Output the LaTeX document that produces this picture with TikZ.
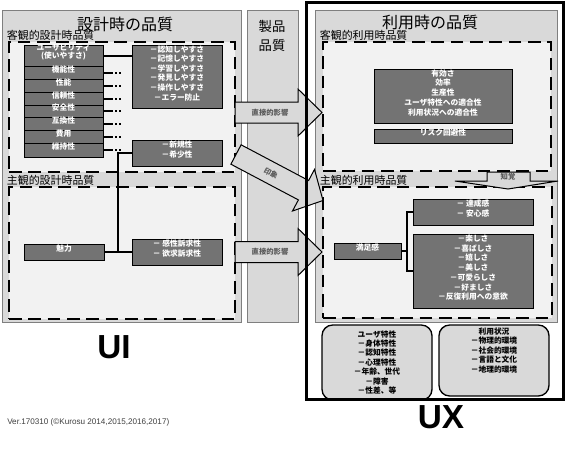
\documentclass[tikz,border=0pt]{standalone}
\usepackage{fontspec}
\setmainfont{Noto Sans CJK JP}
\newfontfamily\latinfont{Liberation Sans}
\usetikzlibrary{fit}
\definecolor{panelgray}{HTML}{D9D9D9}
\definecolor{innerfill}{HTML}{F2F2F2}
\definecolor{boxgray}{HTML}{737373}
\definecolor{bordergray}{HTML}{7F7F7F}
\newcommand\boxfont{\fontsize{5.8}{7.2}\selectfont\bfseries}
\newcommand\lblfont{\fontsize{8.2}{9}\selectfont}
\newcommand\bigtitlefont{\fontsize{12}{14}\selectfont}
\newcommand\rbfont{\fontsize{5.8}{7.1}\selectfont\bfseries}
\begin{document}
\begin{tikzpicture}[x=0.75pt,y=-0.75pt,
  panel/.style={draw=bordergray, line width=0.75pt, fill=panelgray, inner sep=0pt},
  dashbox/.style={draw=black, line width=1.5pt, fill=innerfill, dash pattern=on 9.5pt off 5pt, inner sep=0pt},
  darkbox/.style={draw=black, line width=0.6pt, fill=boxgray, text=white, font=\boxfont, align=center, inner sep=0pt},
  grouplabel/.style={font=\lblfont, anchor=south west, inner sep=0.5pt},
  conn/.style={line width=1.5pt},
  dotconn/.style={line width=1.5pt, dash pattern=on 7.5pt off 1.5pt on 1.5pt off 1.5pt on 1.5pt off 30pt},
  blockarrow/.style={draw=black, line width=0.75pt, fill=panelgray, line join=miter},
  arrowtext/.style={font=\fontsize{5.5}{6}\selectfont\bfseries, text=black!65},
  roundbox/.style={draw=black, line width=1pt, fill=panelgray, rounded corners=8pt, inner sep=0pt},
  bigletters/.style={font=\latinfont\bfseries\fontsize{25}{25}\selectfont}
]
\fill[white] (0,0) rectangle (567,457);
\useasboundingbox (0,0) rectangle (567,457);

% ---------- left: design-time quality ----------
\node[panel, fit={(2,10)(241,322)}] (designpanel) {};
\node[font=\bigtitlefont] (designtitle) at (125,24.5) {設計時の品質};
\node[dashbox, fit={(9,42)(235,172)}] (objdesign) {};
\node[grouplabel] (objdesignlbl) at (6,41.5) {客観的設計時品質};
\node[dashbox, fit={(9,187)(235,319)}] (subjdesign) {};
\node[grouplabel] (subjdesignlbl) at (6,186.5) {主観的設計時品質};

% ---------- middle: product quality ----------
\node[panel, fit={(247,10)(298,322)}] (prodpanel) {};
\node[font=\fontsize{10}{14.6}\selectfont, align=center] (prodtitle) at (272,36) {製品\\品質};

% ---------- right: quality in use ----------
\node[panel, fit={(315,10)(557,322)}] (usepanel) {};
\node[font=\bigtitlefont] (usetitle) at (430,22.5) {利用時の品質};
\node[dashbox, fit={(323,42)(551,171)}] (objuse) {};
\node[grouplabel] (objuselbl) at (319,41.5) {客観的利用時品質};
\node[dashbox, fit={(323,187)(552,318)}] (subjuse) {};
\node[grouplabel] (subjuselbl) at (319,186.5) {主観的利用時品質};

% ---------- design-time boxes ----------
\node[darkbox, fit={(24,45)(103,66)}, font=\fontsize{5.8}{6.4}\selectfont\bfseries] (usab) {ユーザビリティ\\(使いやすさ)};
\node[darkbox, fit={(24,66)(103,79)}] (kinou) {機能性};
\node[darkbox, fit={(24,79)(103,92)}] (seinou) {性能};
\node[darkbox, fit={(24,92)(103,105)}] (shinrai) {信頼性};
\node[darkbox, fit={(24,105)(103,117)}] (anzen) {安全性};
\node[darkbox, fit={(24,117)(103,130)}] (gokan) {互換性};
\node[darkbox, fit={(24,130)(103,143)}] (hiyou) {費用};
\node[darkbox, fit={(24,143)(103,157)}] (iji) {維持性};
\node[darkbox, fit={(132,45)(222,108)}] (listbox) {－認知しやすさ\\－記憶しやすさ\\－学習しやすさ\\－発見しやすさ\\－操作しやすさ\\－エラー防止};
\node[darkbox, fit={(132,140)(222,166)}] (novel) {－新規性\\－希少性};
\node[darkbox, fit={(24,244)(104,260)}] (miryoku) {魅力};
\node[darkbox, fit={(132,239)(222,265)}] (kansei) {－ 感性訴求性\\－ 欲求訴求性};

\draw[conn] (usab.east) -- (usab.east -| listbox.west);
\foreach \n in {kinou,seinou,shinrai,anzen,gokan,hiyou,iji}
  \draw[dotconn] (\n.east) -- ++(18,0);
\draw[conn] (novel.west) -- ++(-14,0) |- (kansei.west);
\draw[conn] (miryoku.east) -- (kansei.west);

% ---------- use-time boxes ----------
\node[darkbox, fit={(374,69)(512,123)}, font=\fontsize{5.8}{7.3}\selectfont\bfseries] (eff) {有効さ\\効率\\生産性\\ユーザ特性への適合性\\利用状況への適合性};
\node[darkbox, fit={(374,129)(512,143)}] (risk) {リスク回避性};
\node[darkbox, fit={(334,243)(401,259)}] (manzoku) {満足感};
\node[darkbox, fit={(413,199)(533,225)}] (tassei) {－ 達成感\\－ 安心感};
\node[darkbox, fit={(413,234)(533,308)}, font=\fontsize{5.8}{7.3}\selectfont\bfseries] (joy) {－楽しさ\\－喜ばしさ\\－嬉しさ\\－美しさ\\－可愛らしさ\\－好ましさ\\－反復利用への意欲};

\draw[conn] (manzoku.east) -- ++(6,0) coordinate (brk);
\draw[conn] (tassei.west) -| (brk) |- (joy.west);

% ---------- context boxes ----------
\node[roundbox, fit={(322,325)(432,400)}] (userchar) {};
\node[font=\rbfont, align=center] (userchartext) at (userchar.center) {ユーザ特性\\－身体特性\\－認知特性\\－心理特性\\－年齢、世代\\－障害\\－性差、等};
\node[roundbox, fit={(439,325)(549,396)}] (context) {};
\node[font=\rbfont, align=center, anchor=north, inner sep=0pt] (contexttext) at ([yshift=-2.2pt]context.north) {利用状況\\－物理的環境\\－社会的環境\\－言語と文化\\－地理的環境};

% ---------- block arrows ----------
\draw[blockarrow] (235,102) -- (298,102) -- (298,89) -- (322,112.5) -- (298,136) -- (298,123) -- (235,123) -- cycle;
\node[arrowtext] (directA) at (270,112.5) {直接的影響};
\draw[blockarrow] (235,241.5) -- (298,241.5) -- (298,228.5) -- (322,252) -- (298,275.5) -- (298,262.5) -- (235,262.5) -- cycle;
\node[arrowtext] (directB) at (270,252) {直接的影響};
\draw[blockarrow] (241.1,144.8) -- (308.6,180.5) -- (314.5,169.4) -- (323,200.5) -- (292.5,211) -- (298.4,199.9) -- (230.9,164.2) -- cycle;
\node[arrowtext, rotate=-28, inner sep=0pt] (impression) at (271,173.5) {印象};
\draw[blockarrow] (487,172) -- (530,172) -- (530,181) -- (558,181) -- (508,189) -- (455,181) -- (487,181) -- cycle;
\node[arrowtext] (perception) at (508,176.5) {知覚};

% ---------- UX frame and big labels ----------
\node[draw=black, line width=2.25pt, fit={(306,2)(563,399)}, inner sep=0pt] (uxframe) {};
\node[bigletters] (uilabel) at (114,347) {UI};
\node[bigletters] (uxlabel) at (441,417) {UX};
\node[font=\latinfont\fontsize{6.1}{7}\selectfont, text=black!75, anchor=west, inner sep=0pt] (version) at (7,422.5) {Ver.170310 (©Kurosu 2014,2015,2016,2017)};
\end{tikzpicture}
\end{document}
